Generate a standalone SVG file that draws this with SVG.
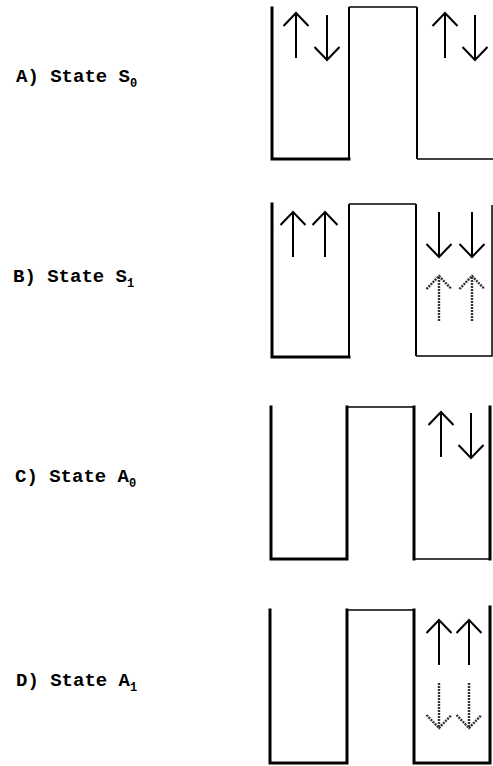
<svg xmlns="http://www.w3.org/2000/svg" width="493" height="766" viewBox="0 0 493 766">
<style>
  .lbl { font-family: "Liberation Mono", "DejaVu Sans Mono", monospace; font-weight: bold; font-size: 19px; fill: #000; }
  .sub { font-size: 12px; }
  .w3 { fill: none; stroke: #000; stroke-width: 3; stroke-linecap: square; }
  .w2 { fill: none; stroke: #000; stroke-width: 2; }
  .w1 { fill: none; stroke: #000; stroke-width: 1.5; }
  .ar { fill: none; stroke: #000; stroke-width: 2; }
  .ad { fill: none; stroke: #333; stroke-width: 2.4; stroke-dasharray: 2 1; }
</style>
<defs>
  <!-- open arrows, origin at tail, pointing up / down, length 45 -->
  <path id="up" d="M0,45 V0 M-12.5,13 L0,0 L12.5,13"/>
  <path id="dn" d="M0,0 V45 M-12.5,32 L0,45 L12.5,32"/>
</defs>

<!-- A) State S0 -->
<g id="stateA">
  <text class="lbl" x="16" y="82">A) State S<tspan class="sub" dy="5">0</tspan></text>
  <path class="w3" d="M272,8 V159 H349"/>
  <path class="w2" d="M349,159 V7"/>
  <path class="w1" d="M349,7 H417"/>
  <path class="w2" d="M417,7 V159"/>
  <path class="w1" d="M417,159 H493"/>
  <use href="#up" class="ar" x="296" y="13"/>
  <use href="#dn" class="ar" x="327" y="15"/>
  <use href="#up" class="ar" x="445" y="13"/>
  <use href="#dn" class="ar" x="475" y="15"/>
</g>

<!-- B) State S1 -->
<g id="stateB">
  <text class="lbl" x="13" y="282">B) State S<tspan class="sub" dy="5">1</tspan></text>
  <path class="w3" d="M272,204 V357 H349"/>
  <path class="w2" d="M349,357 V204"/>
  <path class="w1" d="M349,204 H416"/>
  <path class="w2" d="M416,204 V356"/>
  <path class="w1" d="M416,356 H492 V205"/>
  <use href="#up" class="ar" x="293" y="212"/>
  <use href="#up" class="ar" x="325" y="212"/>
  <use href="#dn" class="ar" x="439" y="212"/>
  <use href="#dn" class="ar" x="472" y="212"/>
  <use href="#up" class="ad" x="439" y="276"/>
  <use href="#up" class="ad" x="472" y="276"/>
</g>

<!-- C) State A0 -->
<g id="stateC">
  <text class="lbl" x="15" y="482">C) State A<tspan class="sub" dy="5">0</tspan></text>
  <path class="w3" d="M271,407 V559 H347 V407"/>
  <path class="w1" d="M347,407 H414"/>
  <path class="w3" d="M414,407 V559"/>
  <path class="w1" d="M414,559 H490"/>
  <path class="w3" d="M490,407 V559"/>
  <use href="#up" class="ar" x="441" y="412"/>
  <use href="#dn" class="ar" x="471" y="413"/>
</g>

<!-- D) State A1 -->
<g id="stateD">
  <text class="lbl" x="16" y="686">D) State A<tspan class="sub" dy="5">1</tspan></text>
  <path class="w3" d="M270,610 V763 H347 V610"/>
  <path class="w1" d="M347,610 H414"/>
  <path class="w3" d="M414,610 V763 H490 V607"/>
  <use href="#up" class="ar" x="439" y="620"/>
  <use href="#up" class="ar" x="469" y="620"/>
  <use href="#dn" class="ad" x="439" y="683"/>
  <use href="#dn" class="ad" x="469" y="683"/>
</g>
</svg>
